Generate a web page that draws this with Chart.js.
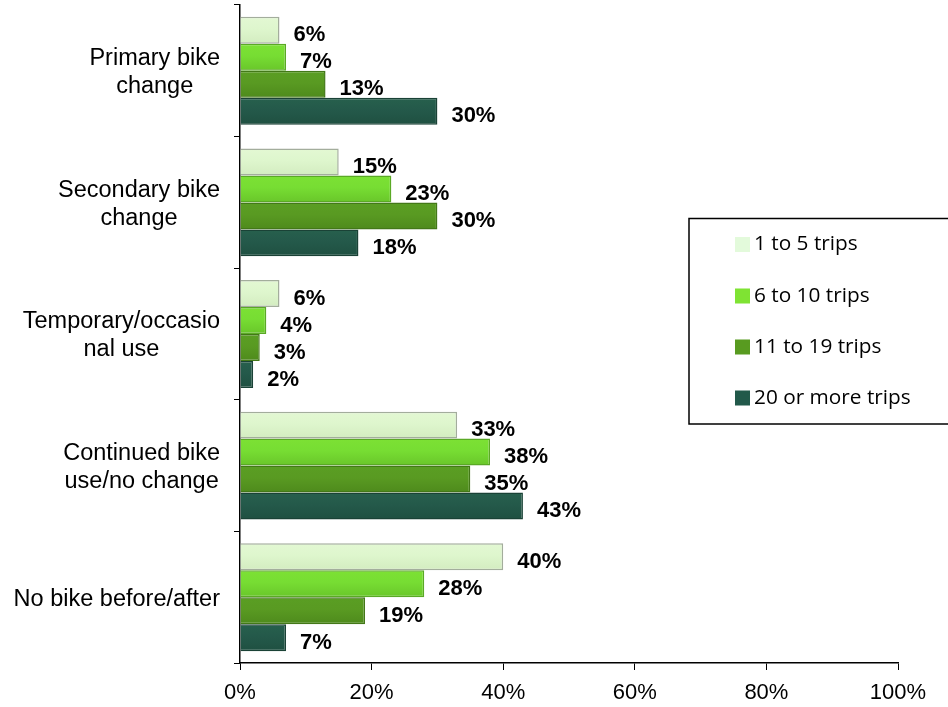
<!DOCTYPE html>
<html>
<head>
<meta charset="utf-8">
<script src="https://cdn.jsdelivr.net/npm/chart.js@4/dist/chart.umd.min.js"></script>
<style>
  body { margin: 0; background: #fff; }
  #wrap { width: 948px; height: 707px; }
</style>
</head>
<body>
<div id="wrap"><canvas id="barChart" width="948" height="707"></canvas></div>
<script>
// categories (top to bottom)
const categories = [
    ['Primary bike', 'change'],
    ['Secondary bike', 'change'],
    ['Temporary/occasio', 'nal use'],
    ['Continued bike', 'use/no change'],
    ['No bike before/after']
];
const seriesNames = ['1 to 5 trips', '6 to 10 trips', '11 to 19 trips', '20 or more trips'];

// values in percent, one array per series
const trips1to5 = [6, 15, 6, 33, 40];
const trips6to10 = [7, 23, 4, 38, 28];
const trips11to19 = [13, 30, 3, 35, 19];
const trips20plus = [30, 18, 2, 43, 7];

const xTicks = [0, 20, 40, 60, 80, 100];

const fillTop = ['#e3f8d3', '#7ce134', '#5a9e23', '#27604d'];
const fillBottom = ['#d3ecc0', '#69c62a', '#4e8a1c', '#1f5041'];
const fills = ['#def6cd', '#77dd33', '#599a22', '#24594a'];
const borders = ['#a3ad9c', '#5aa925', '#437818', '#1a4236'];
const swatches = ['#e3fadb', '#7fe333', '#589b20', '#22594a'];

const FONT = '"Liberation Sans", Arial, sans-serif';

// slight vertical gloss on each bar (needs element geometry, so chart is updated twice)
function barFill(i) {
    return function (ctx) {
        const el = ctx.element;
        if (!el || !isFinite(el.y) || !isFinite(el.height)) return fills[i];
        const h = el.height;
        const g = ctx.chart.ctx.createLinearGradient(0, el.y - h / 2, 0, el.y + h / 2);
        g.addColorStop(0, fillTop[i]);
        g.addColorStop(0.45, fills[i]);
        g.addColorStop(1, fillBottom[i]);
        return g;
    };
}

// value labels at the end of each bar
const valueLabels = {
    id: 'valueLabels',
    afterDatasetsDraw(chart) {
        const ctx = chart.ctx;
        ctx.save();
        ctx.font = 'bold 22px ' + FONT;
        ctx.fillStyle = '#000';
        ctx.textAlign = 'left';
        ctx.textBaseline = 'middle';
        chart.data.datasets.forEach((ds, i) => {
            chart.getDatasetMeta(i).data.forEach((bar, j) => {
                ctx.fillText(ds.data[j] + '%', bar.x + 14, bar.y + 5);
            });
        });
        ctx.restore();
    }
};

// category labels: lines centred on each other, block right-aligned
const catLabels = {
    id: 'catLabels',
    afterDraw(chart) {
        const ctx = chart.ctx;
        const y = chart.scales.y;
        ctx.save();
        ctx.font = '23.5px ' + FONT;
        ctx.fillStyle = '#000';
        ctx.textAlign = 'center';
        ctx.textBaseline = 'middle';
        const lineH = 28;
        categories.forEach((lines, i) => {
            const cy = y.getPixelForValue(i);
            const w = Math.max(...lines.map(l => ctx.measureText(l).width));
            const cx = 220 - w / 2;
            const top = cy - (lines.length - 1) * lineH / 2;
            lines.forEach((l, k) => ctx.fillText(l, cx, top + k * lineH + 2));
        });
        ctx.restore();
    }
};

// boxed legend at the right
const boxLegend = {
    id: 'boxLegend',
    afterDraw(chart) {
        const ctx = chart.ctx;
        ctx.save();
        ctx.strokeStyle = '#000';
        ctx.lineWidth = 1.5;
        ctx.strokeRect(689, 218.5, 270, 205.5);
        ctx.font = '20.8px "Open Sans", sans-serif';
        ctx.textBaseline = 'middle';
        const rows = [244.5, 296, 347, 398];
        seriesNames.forEach((name, i) => {
            ctx.fillStyle = swatches[i];
            ctx.fillRect(735, rows[i] - 7.5, 15, 15);
            ctx.fillStyle = '#000';
            ctx.fillText(name, 754, rows[i]);
        });
        ctx.restore();
    }
};

const seriesData = [trips1to5, trips6to10, trips11to19, trips20plus];

const chart = new Chart(document.getElementById('barChart'), {
    type: 'bar',
    data: {
        labels: categories.map(c => c.join(' ')),
        datasets: seriesNames.map((name, i) => ({
            label: name,
            data: seriesData[i],
            backgroundColor: barFill(i),
            borderColor: borders[i],
            borderWidth: 1.5,
            borderSkipped: 'left',
            categoryPercentage: 0.82,
            barPercentage: 1.0
        }))
    },
    options: {
        indexAxis: 'y',
        responsive: false,
        animation: false,
        layout: { padding: { top: 5, right: 50, left: 0, bottom: 0 } },
        plugins: {
            legend: { display: false },
            tooltip: { enabled: false }
        },
        scales: {
            x: {
                min: 0,
                max: 100,
                afterBuildTicks: scale => { scale.ticks = xTicks.map(v => ({ value: v })); },
                afterFit: scale => { scale.height = 44; },
                ticks: {
                    callback: v => v + '%',
                    font: { family: FONT, size: 22 },
                    color: '#000',
                    padding: 10,
                    maxRotation: 0
                },
                grid: { drawOnChartArea: false, tickLength: 7, color: '#000' },
                border: { color: '#000', width: 1.5 }
            },
            y: {
                afterFit: scale => { scale.width = 240; },
                ticks: { display: false },
                grid: { offset: true, drawOnChartArea: false, tickLength: 6, color: '#000' },
                border: { color: '#000', width: 1.5 }
            }
        }
    },
    plugins: [valueLabels, catLabels, boxLegend]
});
chart.update();
</script>
</body>
</html>
